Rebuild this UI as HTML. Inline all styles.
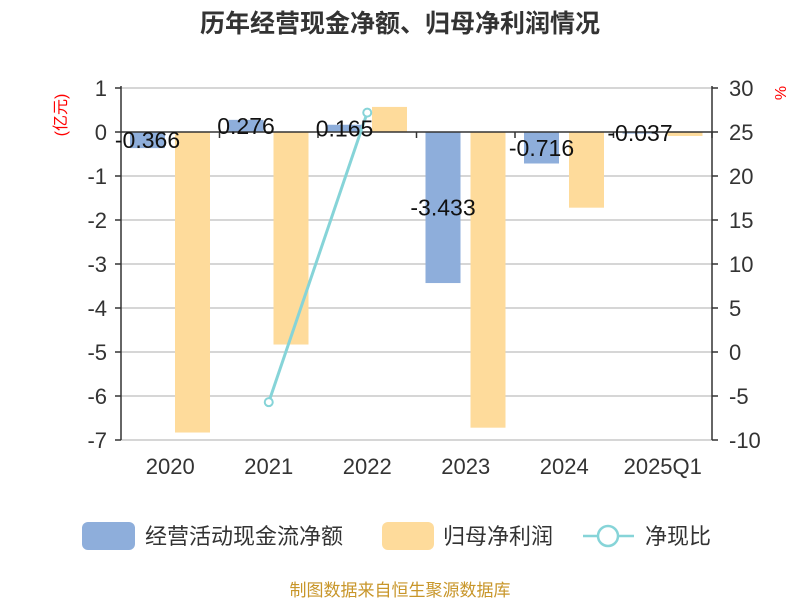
<!DOCTYPE html>
<html><head><meta charset="utf-8"><style>
body{margin:0;background:#fff;}
svg{display:block;font-family:"Liberation Sans","Noto Sans CJK SC",sans-serif;}
</style></head><body>
<svg id="chart" width="800" height="600">
<text x="400" y="32" text-anchor="middle" font-size="25" font-weight="bold" fill="#333">历年经营现金净额、归母净利润情况</text>
<text transform="translate(66,115) rotate(-90)" text-anchor="middle" font-size="16" fill="#f00">(亿元)</text>
<text transform="translate(786,93) rotate(-90)" text-anchor="middle" font-size="16" fill="#f00">%</text>
<g id="grid"></g><g id="bars"></g><g id="axes"></g><g id="line"></g><g id="labels"></g>
<g>
<rect x="82" y="522" width="53" height="28" rx="6" fill="#8eaedb"/>
<text x="145" y="544" font-size="22" fill="#333">经营活动现金流净额</text>
<rect x="382" y="522" width="52" height="28" rx="6" fill="#fedb9b"/>
<text x="443" y="544" font-size="22" fill="#333">归母净利润</text>
<line x1="583" y1="536" x2="634" y2="536" stroke="#86d4d8" stroke-width="2.5"/>
<circle cx="608" cy="536" r="10" fill="#fff" stroke="#86d4d8" stroke-width="2.5"/>
<text x="645" y="544" font-size="22" fill="#333">净现比</text>
</g>
<text x="400" y="596" text-anchor="middle" font-size="17" fill="#c8962a">制图数据来自恒生聚源数据库</text>
</svg>
<script>
const categories=["2020","2021","2022","2023","2024","2025Q1"];
const cashflow=[-0.366,0.276,0.165,-3.433,-0.716,-0.037];
const profit=[-6.83,-4.83,0.57,-6.72,-1.72,-0.09];
const ratio=[null,-5.7,27.2,null,null,null];
const leftTicks=[1,0,-1,-2,-3,-4,-5,-6,-7];
const rightTicks=[30,25,20,15,10,5,0,-5,-10];
const NS="http://www.w3.org/2000/svg";
const X0=121,X1=712,band=(X1-X0)/categories.length;
const yL=v=>132-v*44;
const yR=v=>440-(v+10)*8.8;
function mk(p,t,a){const e=document.createElementNS(NS,t);for(const k in a)e.setAttribute(k,a[k]);document.getElementById(p).appendChild(e);return e;}
leftTicks.forEach(t=>{
 if(t!==0){const g=mk("grid","line",{x1:X0,x2:X1,y1:yL(t),y2:yL(t),stroke:"#c8c8c8","stroke-width":1.5});
 
 }
 const tk=mk("axes","line",{x1:X0-6,x2:X0,y1:yL(t),y2:yL(t),stroke:"#333","stroke-width":1.5});
 
 
 const tx=mk("axes","text",{x:X0-14,y:yL(t)+8,"text-anchor":"end","font-size":22,fill:"#333"});tx.textContent=t;
 
 
});
rightTicks.forEach(t=>{
 const tk=mk("axes","line",{x1:X1,x2:X1+6,y1:yR(t),y2:yR(t),stroke:"#333","stroke-width":1.5});
 
 
 const tx=mk("axes","text",{x:X1+17,y:yR(t)+8,"font-size":22,fill:"#333"});tx.textContent=t;
 
 
});
let a=mk("axes","line",{x1:X0,x2:X0,y1:yL(1)-2,y2:yL(-7),stroke:"#333","stroke-width":1.5});


a=mk("axes","line",{x1:X1,x2:X1,y1:yR(30)-2,y2:yR(-10),stroke:"#333","stroke-width":1.5});


a=mk("axes","line",{x1:X0,x2:X1,y1:yL(0),y2:yL(0),stroke:"#333","stroke-width":1.5});


categories.forEach((c,i)=>{
 const bx=X0+i*band;
 const tk=mk("axes","line",{x1:bx+band,x2:bx+band,y1:yL(0),y2:yL(0)+6,stroke:"#333","stroke-width":1.5});
 
 
 const tl=mk("axes","text",{x:bx+band/2,y:474,"text-anchor":"middle","font-size":22,fill:"#333"});tl.textContent=c;
 
 
 const v=cashflow[i],y0=yL(0),y1=yL(v);
 const b=mk("bars","rect",{x:bx+9,y:Math.min(y0,y1),width:35,height:Math.abs(y1-y0),fill:"#8eaedb"});
 
 
 const p=profit[i],py=yL(p);
 const b2=mk("bars","rect",{x:bx+54,y:Math.min(y0,py),width:35,height:Math.abs(py-y0),fill:"#fedb9b"});
 
 
 const lb=mk("labels","text",{x:bx+26.5,y:(y0+y1)/2+8,"text-anchor":"middle","font-size":23,fill:"#111"});lb.textContent=v;
 
 
});
const pts=[];ratio.forEach((r,i)=>{if(r!==null)pts.push([X0+i*band+band/2,yR(r)]);});
const pl=mk("line","polyline",{points:pts.map(p=>p.join(",")).join(" "),fill:"none",stroke:"#86d4d8","stroke-width":3});


pts.forEach(p=>{const c=mk("line","circle",{cx:p[0],cy:p[1],r:4,fill:"#fff",stroke:"#86d4d8","stroke-width":2});
 
 });
</script>
</body></html>
